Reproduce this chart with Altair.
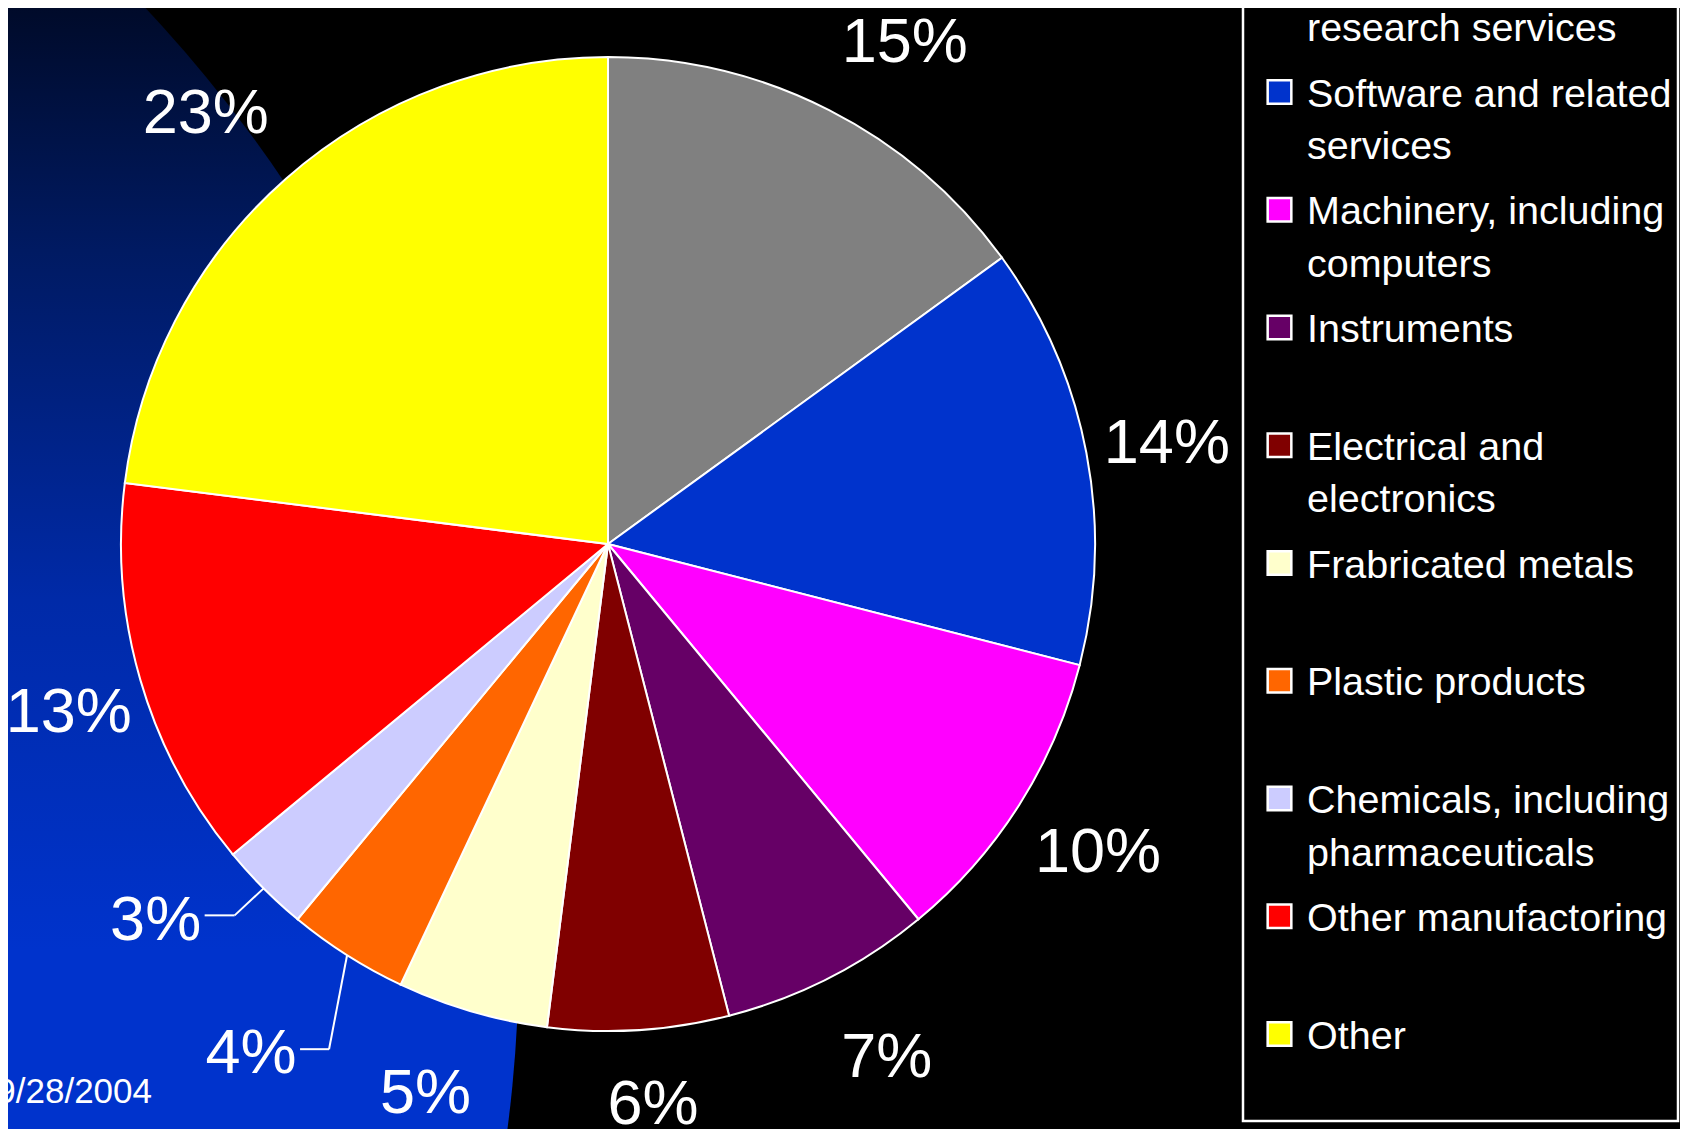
import math
import altair as alt
import numpy as np
import pandas as pd

# ---------------- data ----------------
categories = [
    "Engineering and research services",
    "Software and related services",
    "Machinery, including computers",
    "Instruments",
    "Electrical and electronics",
    "Frabricated metals",
    "Plastic products",
    "Chemicals, including pharmaceuticals",
    "Other manufactoring",
    "Other",
]
shares = [15, 14, 10, 7, 6, 5, 4, 3, 13, 23]
slice_colors = ["#808080", "#0033CC", "#FF00FF", "#660066", "#800000",
                "#FFFFCC", "#FF6600", "#CCCCFF", "#FF0000", "#FFFF00"]
legend_line1 = ["Engineering and", "Software and related", "Machinery, including",
                "Instruments", "Electrical and", "Frabricated metals",
                "Plastic products", "Chemicals, including", "Other manufactoring", "Other"]
legend_line2 = ["research services", "services", "computers", "", "electronics",
                "", "", "pharmaceuticals", "", ""]
date_text = ["9/28/2004"]

# ---------------- layout ----------------
W, H = 1672, 1121
CX, CY, R = 600, 536, 487
LABEL_R = 572
LABEL_SIZE = 63
TEXT_FONT = "Liberation Sans, Arial, sans-serif"

pie_df = pd.DataFrame({
    "category": categories,
    "share": shares,
    "k": list(range(len(categories))),
    "label": [f"{s}%" for s in shares],
})

# label placement tweaks (pixel nudges from the mid-angle anchor)
label_nudge = {
    "Engineering and research services": (37, 9),
    "Software and related services": (-3, 7),
    "Machinery, including computers": (7, 3),
    "Instruments": (19, 4),
    "Electrical and electronics": (9, -10),
    "Frabricated metals": (-23, 1),
    "Other manufactoring": (10, 9),
    "Other": (-24, -1),
}
# callout labels (small slices) with leader lines; anchored on the pie rim
callouts = {
    "Chemicals, including pharmaceuticals": dict(ex=-29, ey=27, hl=30, tdx=-108, tdy=33),
    "Plastic products": dict(ex=-18, ey=94, hl=29, tdx=-96, tdy=99),
}

total = float(sum(shares))
mids, acc = {}, 0.0
for c, s in zip(categories, shares):
    mids[c] = 2 * math.pi * (acc + s / 2.0) / total
    acc += s

rows = []
for c, o in callouts.items():
    sx = CX + R * math.sin(mids[c])
    sy = CY - R * math.cos(mids[c])
    ex, ey = sx + o["ex"], sy + o["ey"]
    rows.append(dict(x=sx, y=sy, x2=ex, y2=ey))
    rows.append(dict(x=ex, y=ey, x2=ex - o["hl"], y2=ey))
leader_df = pd.DataFrame(rows)

LEG_Y0, LEG_STEP = -33.75, 117.75
leg_df = pd.DataFrame({"category": categories, "line1": legend_line1, "line2": legend_line2})
leg_df["ys"] = LEG_Y0 + LEG_STEP * np.arange(len(categories))
leg_df["yl1"] = leg_df["ys"] + 14.5
leg_df["yl2"] = leg_df["yl1"] + 52.5

one = pd.DataFrame({"d": date_text})

# background gradient disc
BG_CX, BG_CY, BG_R = -866, 943, 1377
def goff(y_canvas):
    return (y_canvas - (BG_CY - BG_R)) / (2.0 * BG_R)
grad_pts = [(-8, "#000a28"), (242, "#001a62"), (592, "#002aa8"), (942, "#0033cc")]
stops = [alt.GradientStop(offset=0, color=grad_pts[0][1])]
stops += [alt.GradientStop(offset=round(goff(y), 4), color=c) for y, c in grad_pts]
stops += [alt.GradientStop(offset=1, color=grad_pts[-1][1])]
gradient = alt.LinearGradient(gradient="linear", stops=stops, x1=0, x2=0, y1=0, y2=1)

bg = alt.Chart(one).mark_arc(radius=BG_R, theta=0, theta2=2 * math.pi, fill=gradient).encode(
    x=alt.value(BG_CX), y=alt.value(BG_CY))

box = alt.Chart(one).mark_rect(filled=False, stroke="white", strokeWidth=2.5).encode(
    x=alt.value(1235), x2=alt.value(1670), y=alt.value(-20), y2=alt.value(1113))

color = alt.Color("category:N", scale=alt.Scale(domain=categories, range=slice_colors), legend=None)

base = alt.Chart(pie_df).encode(
    theta=alt.Theta("share:Q", stack=True),
    order=alt.Order("k:Q", sort="ascending"),
    x=alt.value(CX), y=alt.value(CY),
)
pie = base.mark_arc(radius=R, stroke="white", strokeWidth=2).encode(color=color)

label_layers = []
for c in categories:
    if c in callouts:
        o = callouts[c]
        rad, dx, dy = R, o["tdx"], o["tdy"]
    else:
        rad = LABEL_R
        dx, dy = label_nudge.get(c, (0, 0))
    label_layers.append(
        base.mark_text(radius=rad, dx=dx, dy=dy, font=TEXT_FONT, fontSize=LABEL_SIZE,
                       color="white", align="center", baseline="middle").encode(
            text=alt.condition(alt.FieldEqualPredicate(field="category", equal=c),
                               alt.Text("label:N"), alt.value("")))
    )

leaders = alt.Chart(leader_df).mark_rule(color="white", strokeWidth=2).encode(
    x=alt.X("x:Q", scale=None, axis=None), y=alt.Y("y:Q", scale=None, axis=None),
    x2="x2:Q", y2="y2:Q")

swatches = alt.Chart(leg_df).mark_square(size=560, stroke="white", strokeWidth=2.5, opacity=1).encode(
    x=alt.value(1271.5), y=alt.Y("ys:Q", scale=None, axis=None), color=color)

leg1 = alt.Chart(leg_df).mark_text(font=TEXT_FONT, fontSize=39.5, color="white",
                                   align="left", baseline="alphabetic").encode(
    x=alt.value(1299), y=alt.Y("yl1:Q", scale=None, axis=None), text="line1:N")
leg2 = alt.Chart(leg_df).mark_text(font=TEXT_FONT, fontSize=39.5, color="white",
                                   align="left", baseline="alphabetic").encode(
    x=alt.value(1299), y=alt.Y("yl2:Q", scale=None, axis=None), text="line2:N")

date = alt.Chart(one).mark_text(font=TEXT_FONT, fontSize=35, color="white",
                                align="right", baseline="alphabetic").encode(
    x=alt.value(144), y=alt.value(1095), text="d:N")

chart = alt.layer(bg, box, pie, leaders, *label_layers, swatches, leg1, leg2, date).properties(
    width=W, height=H, background="black", padding=0,
    autosize=alt.AutoSizeParams(type="none"),
).configure_view(stroke=None)

chart.save("out.html", embed_options={"renderer": "svg", "actions": False})
